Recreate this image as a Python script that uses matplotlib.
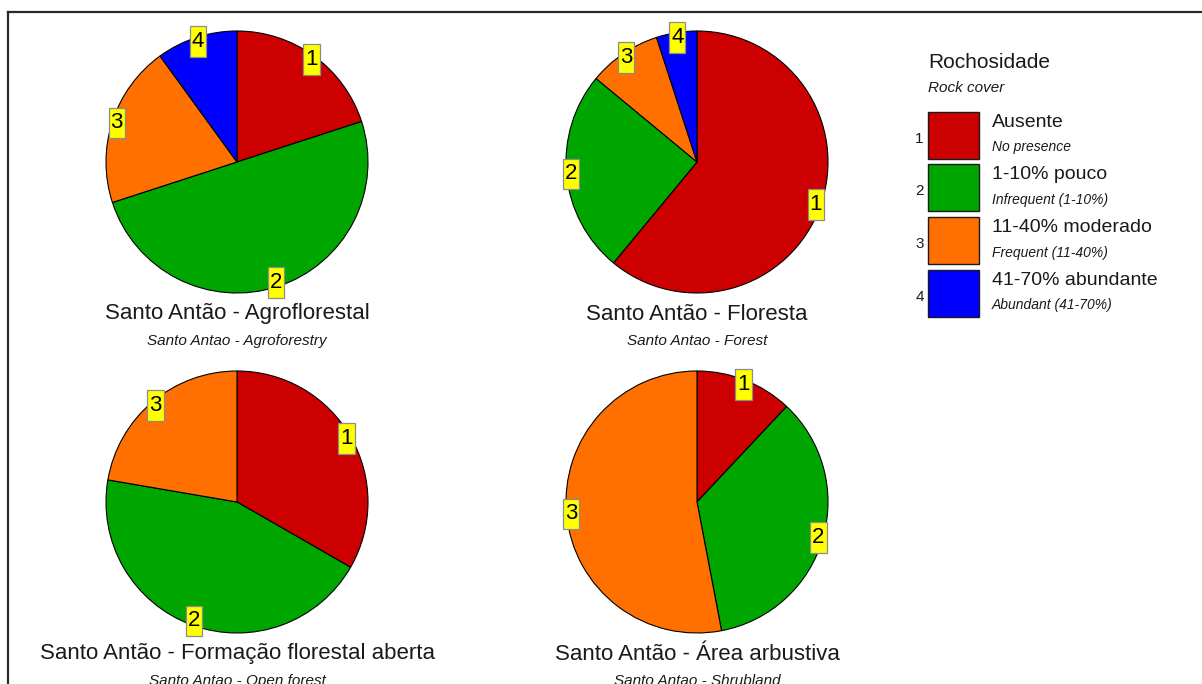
import matplotlib
matplotlib.use("Agg")
import matplotlib.pyplot as plt
from matplotlib.patches import Rectangle
from matplotlib.lines import Line2D
from matplotlib.path import Path

plt.rcParams['font.family'] = ['Liberation Sans', 'DejaVu Sans']

# ---- data ----
categories = ["1", "2", "3", "4"]
cat_labels = ["Ausente", "1-10% pouco", "11-40% moderado", "41-70% abundante"]
cat_sublabels = ["No presence", "Infrequent (1-10%)", "Frequent (11-40%)", "Abundant (41-70%)"]
colors = ["#CC0000", "#00A600", "#FF7000", "#0000FF"]

titles = ["Santo Antão - Agroflorestal", "Santo Antão - Floresta",
          "Santo Antão - Formação florestal aberta", "Santo Antão - Área arbustiva"]
subtitles = ["Santo Antao - Agroforestry", "Santo Antao - Forest",
             "Santo Antao - Open forest", "Santo Antao - Shrubland"]

agroflorestal = [20, 50, 20, 10]
floresta = [61, 25, 9, 5]
florestal_aberta = [33.3, 44.4, 22.3, 0]
arbustiva = [12, 35, 53, 0]
series = [agroflorestal, floresta, florestal_aberta, arbustiva]

legend_title = "Rochosidade"
legend_subtitle = "Rock cover"

# ---- layout (pixel space, y measured from top) ----
W, H = 1202, 684
centers = [(237, 162), (697, 162), (237, 502), (697, 502)]
radius = 131
title_y = [314, 314, 654, 654]


def tall_box(x0, y0, width, height, mutation_size):
    px = 0.09 * mutation_size
    py = 0.22 * mutation_size
    x1, y1 = x0 + width + px, y0 + height + py
    x0, y0 = x0 - px, y0 - py
    return Path([(x0, y0), (x1, y0), (x1, y1), (x0, y1), (x0, y0)],
                closed=True)


fig = plt.figure(figsize=(W / 100, H / 100), dpi=100)
ax = fig.add_axes([0, 0, 1, 1])

for vals, (cx, cy), t, st, ty in zip(series, centers, titles, subtitles, title_y):
    idx = [i for i, v in enumerate(vals) if v > 0]
    v = [vals[i] for i in idx]
    c = [colors[i] for i in idx]
    lab = [categories[i] for i in idx]
    wedges, texts = ax.pie(v, colors=c, labels=lab, startangle=90, counterclock=False,
                           center=(cx, H - cy), radius=radius, labeldistance=0.965,
                           wedgeprops=dict(edgecolor='black', linewidth=0.8),
                           textprops=dict(fontsize=16, color='black'), frame=True)
    for tx in texts:
        tx.set_ha('center')
        tx.set_va('center')
        tx.set_bbox(dict(boxstyle=tall_box, facecolor='#FFFF00',
                         edgecolor='#8C8C8C', linewidth=0.9))
    ax.text(cx, H - ty, t, ha='center', va='center', fontsize=16, color='#1a1a1a')
    ax.text(cx, H - ty - 27, st, ha='center', va='center', fontsize=11,
            style='italic', color='#1a1a1a')

# ---- legend ----
ax.text(928, H - 63, legend_title, ha='left', va='center', fontsize=15, color='#1a1a1a')
ax.text(928, H - 88, legend_subtitle, ha='left', va='center', fontsize=11,
        style='italic', color='#1a1a1a')
sw_top = [111.7, 164.3, 217.3, 270.0]
for i in range(4):
    top = sw_top[i]
    ax.add_patch(Rectangle((927.5, H - top - 47), 51, 47, facecolor=colors[i],
                           edgecolor='#1a1a1a', linewidth=1.0))
    ax.text(919.5, H - top - 27, categories[i], ha='center', va='center',
            fontsize=11, color='#1a1a1a')
    ax.text(992, H - top - 10.5, cat_labels[i], ha='left', va='center',
            fontsize=14, color='#1a1a1a')
    ax.text(992, H - top - 35.5, cat_sublabels[i], ha='left', va='center',
            fontsize=10, style='italic', color='#1a1a1a')

# ---- frame lines (top and left) ----
ax.add_line(Line2D([8, W], [H - 12, H - 12], color='#2a2a2a', linewidth=1.6))
ax.add_line(Line2D([8, 8], [H - 12, 0], color='#2a2a2a', linewidth=1.6))

ax.set_xlim(0, W)
ax.set_ylim(0, H)
ax.set_aspect('equal')
ax.set_xticks([])
ax.set_yticks([])
ax.axis('off')

fig.savefig("out.png", dpi=100, facecolor='white')
